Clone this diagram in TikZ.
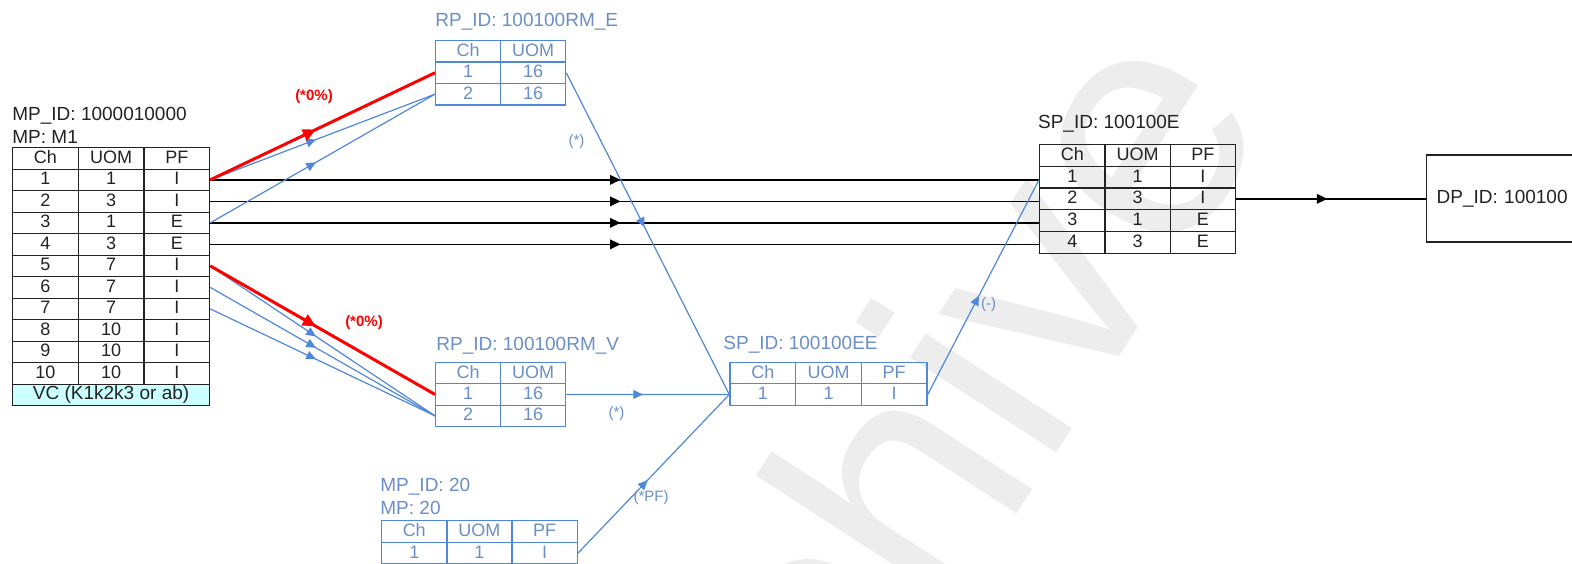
\documentclass[tikz,border=0pt]{standalone}
\usepackage{fontspec}
\setmainfont{Liberation Sans}
\usetikzlibrary{arrows.meta,decorations.markings,calc}
\definecolor{lblue}{HTML}{4F88D8}
\definecolor{tblue}{HTML}{6A8EC6}
\definecolor{dk}{HTML}{222222}
\definecolor{vcfill}{HTML}{CCFFFF}
\definecolor{wm}{HTML}{EDEDED}
\tikzset{
 cell/.style={draw, inner sep=0pt, text height=6pt, text depth=1pt, font=\fontsize{9}{10}\selectfont, anchor=north west},
 blk/.style={draw=dk, text=dk, line width=0.6pt},
 blu/.style={draw=lblue, text=tblue, line width=0.65pt},
 title/.style={anchor=base west, inner sep=0pt, font=\fontsize{9.5}{11}\selectfont},
 lbl/.style={inner sep=0pt, font=\fontsize{7.5}{9}\selectfont},
 midarrow/.style={postaction={decorate}, decoration={markings, mark=at position #1 with {\arrow{Triangle[length=4.8pt,width=4.4pt]}}}},
 karrow/.style={postaction={decorate}, decoration={markings, mark=at position #1 with {\arrow{Triangle[length=5.2pt,width=4.8pt]}}}},
 bigarrow/.style={postaction={decorate}, decoration={markings, mark=at position #1 with {\arrow{Triangle[length=6.5pt,width=6pt]}}}},
 bline/.style={draw=lblue, line width=0.6pt},
 kline/.style={draw=black, line width=0.8pt},
 rline/.style={draw=red, line width=1.5pt},
}
% #1 prefix, #2 x, #3 y, #4 column width (px), #5 row height (px), #6 style, #7 rows
\newcommand\tbl[7]{%
 \foreach \row [count=\i from 0] in {#7} {%
  \foreach \cell [count=\j from 1] in \row {%
   \node[cell,#6,minimum width=#4*0.5pt,minimum height=#5*0.5pt] (#1\i-\j) at ({#2+#4*(\j-1)},{#3+#5*\i}) {\cell};
  }}}
\begin{document}
\begin{tikzpicture}[x=0.5pt,y=-0.5pt]
\useasboundingbox (0,0) rectangle (1572,563);
\clip (0,0) rectangle (1572,563);
% watermark
\node[text=wm, inner sep=0pt, anchor=base west, rotate=57, font=\fontsize{165}{165}\selectfont] (wmk) at (675,1041) {Archive};

% left table MP M1
\node[title, text=dk] (mpid) at (12,120) {MP\_ID: 1000010000};
\node[title, text=dk] (mpm) at (12,143) {MP: M1};
\tbl{m}{12}{147}{65.67}{21.5}{blk}{{Ch,UOM,PF},{1,1,I},{2,3,I},{3,1,E},{4,3,E},{5,7,I},{6,7,I},{7,7,I},{8,10,I},{9,10,I},{10,10,I}}
\node[cell,blk,fill=vcfill,minimum width=98.5pt,minimum height=10.75pt,font=\fontsize{9.5}{11}\selectfont] (mvc) at (12,383.5) {VC (K1k2k3 or ab)};

% RP E
\node[title,text=tblue] (rpet) at (435,26) {RP\_ID: 100100RM\_E};
\tbl{re}{435}{40}{65}{21.4}{blu}{{Ch,UOM},{1,16},{2,16}}

% RP V
\node[title,text=tblue] (rpvt) at (436,350) {RP\_ID: 100100RM\_V};
\tbl{rv}{435}{361.7}{65}{21.4}{blu}{{Ch,UOM},{1,16},{2,16}}

% SP EE
\node[title,text=tblue] (eet) at (723,349.5) {SP\_ID: 100100EE};
\tbl{ee}{729.3}{361.6}{65.7}{21.5}{blu}{{Ch,UOM,PF},{1,1,I}}

% MP 20
\node[title,text=tblue] (m20a) at (380,491.7) {MP\_ID: 20};
\node[title,text=tblue] (m20b) at (380,514) {MP: 20};
\tbl{mp}{381}{520}{65.2}{21.7}{blu}{{Ch,UOM,PF},{1,1,I}}

% SP E
\node[title,text=dk] (spt) at (1037.7,128.5) {SP\_ID: 100100E};
\tbl{sp}{1039}{144}{65.3}{21.7}{blk}{{Ch,UOM,PF},{1,1,I},{2,3,I},{3,1,E},{4,3,E}}

% DP
\node[draw=dk, line width=0.6pt, anchor=north west, minimum width=150pt, minimum height=43.5pt, text width=140pt, inner xsep=4.25pt, align=left, font=\fontsize{9.5}{11}\selectfont, text=dk] (dp) at (1426,154.4) {DP\_ID: 100100};

% black connectors
\foreach \k in {1,...,4} \draw[kline, karrow=0.495] (m\k-3.east) -- (m\k-3.east -| sp1-1.west);
\draw[kline, karrow=0.48] (sp2-3.east) -- (sp2-3.east -| dp.west);

% left table to RP tables
\draw[bline, midarrow=0.47] (m1-3.east) -- (re2-1.west);
\draw[bline, midarrow=0.47] (m3-3.east) -- (re2-1.west);
\draw[rline, bigarrow=0.47] (m1-3.east) -- (re1-1.west);
\foreach \k in {5,6,7} \draw[bline, midarrow=0.47] (m\k-3.east) -- (rv2-1.west);
\draw[rline, bigarrow=0.47] (m5-3.east) -- (rv1-1.west);

% blue connectors to SP EE and SP E
\draw[bline, midarrow=0.48] (re1-2.east) -- (ee1-1.west);
\draw[bline, midarrow=0.47] (rv1-2.east) -- (ee1-1.west);
\draw[bline, midarrow=0.46] (mp1-3.east) -- (ee1-1.west);
\draw[bline, midarrow=0.46] (ee1-3.east) -- (m1-3.east -| sp1-1.west);

% labels
\node[lbl, text=red, font=\bfseries\fontsize{7.5}{9}\selectfont] (l1) at (314,97) {(*0\%)};
\node[lbl, text=red, font=\bfseries\fontsize{7.5}{9}\selectfont] (l2) at (364,322.5) {(*0\%)};
\node[lbl, text=tblue] (l3) at (576.5,141.5) {(*)};
\node[lbl, text=tblue] (l4) at (616.5,414) {(*)};
\node[lbl, text=tblue] (l5) at (651,498) {(*PF)};
\node[lbl, text=tblue] (l6) at (988.6,304.3) {(-)};
\end{tikzpicture}
\end{document}
